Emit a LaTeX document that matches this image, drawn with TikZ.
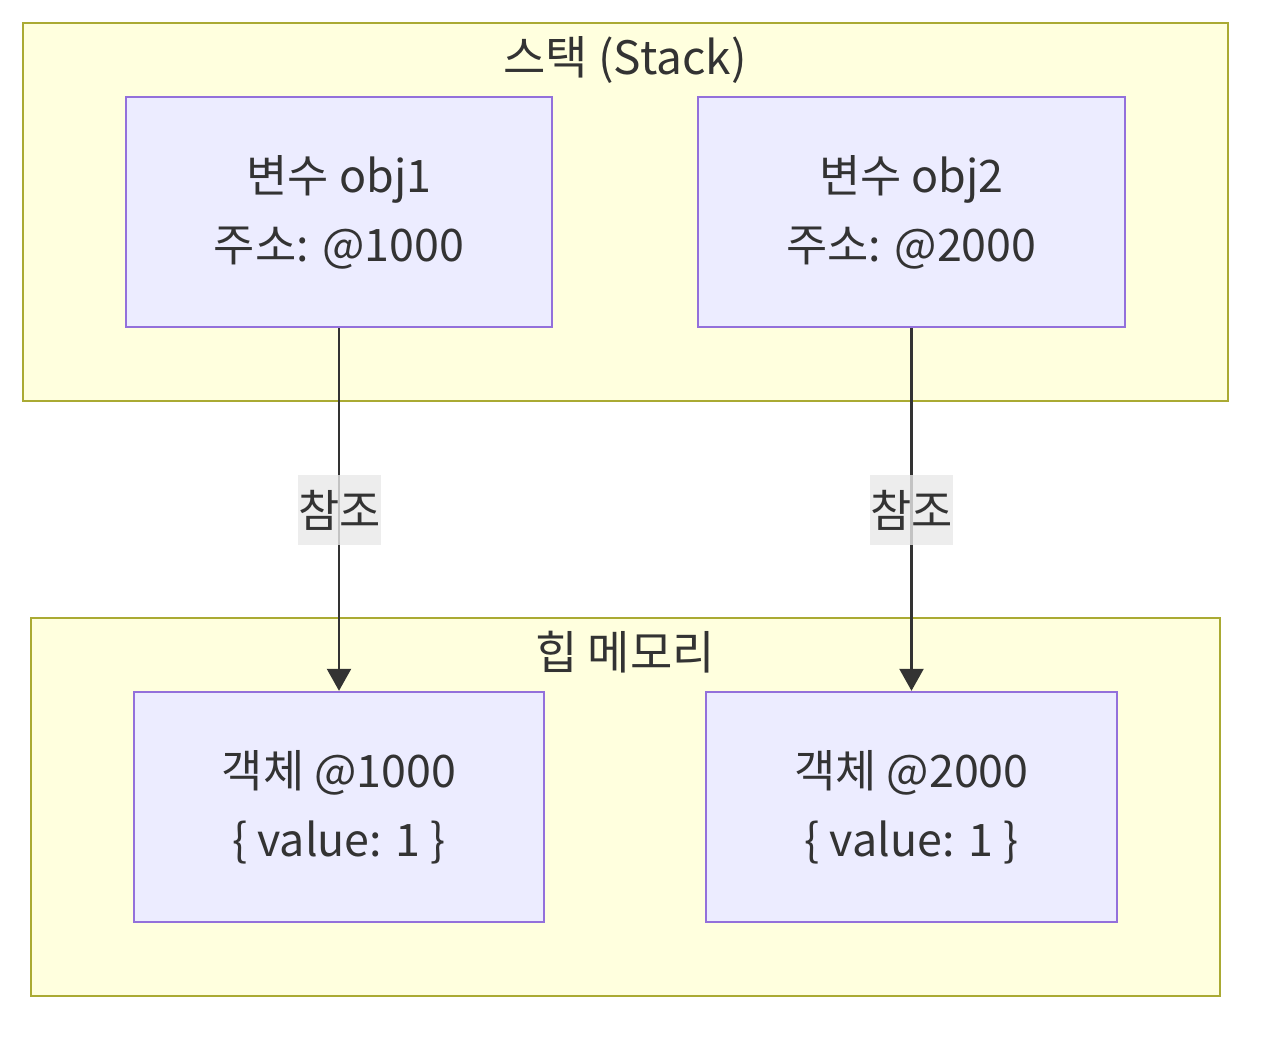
\documentclass[tikz,border=0pt]{standalone}
\usepackage{fontspec}
\setmainfont{Noto Sans CJK KR}
\usetikzlibrary{arrows.meta}
\definecolor{clfill}{HTML}{FFFFDE}
\definecolor{cldraw}{HTML}{AAAA33}
\definecolor{ndfill}{HTML}{ECECFF}
\definecolor{nddraw}{HTML}{9370DB}
\definecolor{txt}{HTML}{333333}
\definecolor{lblbg}{HTML}{E8E8E8}
\tikzset{
  cluster/.style={draw=cldraw, fill=clfill, line width=1.2pt},
  box/.style={draw=nddraw, fill=ndfill, line width=1.2pt},
  boxtext/.style={text=txt, font=\fontsize{22.4}{34.5}\selectfont, align=center},
  ttl/.style={text=txt, font=\fontsize{23}{26}\selectfont},
  conn/.style={draw=txt, line width=1.2pt, -{Triangle[length=11pt,width=12pt]}},
  lbl/.style={fill=lblbg, fill opacity=0.8, text opacity=1, text=txt, font=\fontsize{22.4}{26}\selectfont, inner sep=0pt, minimum width=41.5pt, minimum height=35pt}
}
\begin{document}
\begin{tikzpicture}[x=0.5pt, y=-0.5pt]
\useasboundingbox (0,0) rectangle (1275,1038);
% clusters
\draw[cluster] (23,23) rectangle (1228,401);
\node[ttl] (stackttl) at (625,60) {스택 (Stack)};
\draw[cluster] (31,618) rectangle (1220,996);
\node[ttl] (heapttl) at (625,652) {힙 메모리};
% nodes
\node[box, minimum width=213pt, minimum height=115pt, inner sep=0pt] (v1) at (339,212) {};
\node[boxtext] at (v1.center) {변수 obj1\\주소: @1000};
\node[box, minimum width=213.5pt, minimum height=115pt, inner sep=0pt] (v2) at (911.5,212) {};
\node[boxtext] at (v2.center) {변수 obj2\\주소: @2000};
\node[box, minimum width=205pt, minimum height=115pt, inner sep=0pt] (o1) at (339,807) {};
\node[boxtext] at (o1.center) {객체 @1000\\\{ value: 1 \}};
\node[box, minimum width=205.5pt, minimum height=115pt, inner sep=0pt] (o2) at (911.5,807) {};
\node[boxtext] at (o2.center) {객체 @2000\\\{ value: 1 \}};
% connectors
\draw[conn] (v1.south) -- (o1.north);
\draw[conn] (v2.south -| o2.north) -- (o2.north);
\node[lbl] (l1) at (339.5,510) {참조};
\node[lbl] (l2) at (911.5,510) {참조};
\end{tikzpicture}
\end{document}
